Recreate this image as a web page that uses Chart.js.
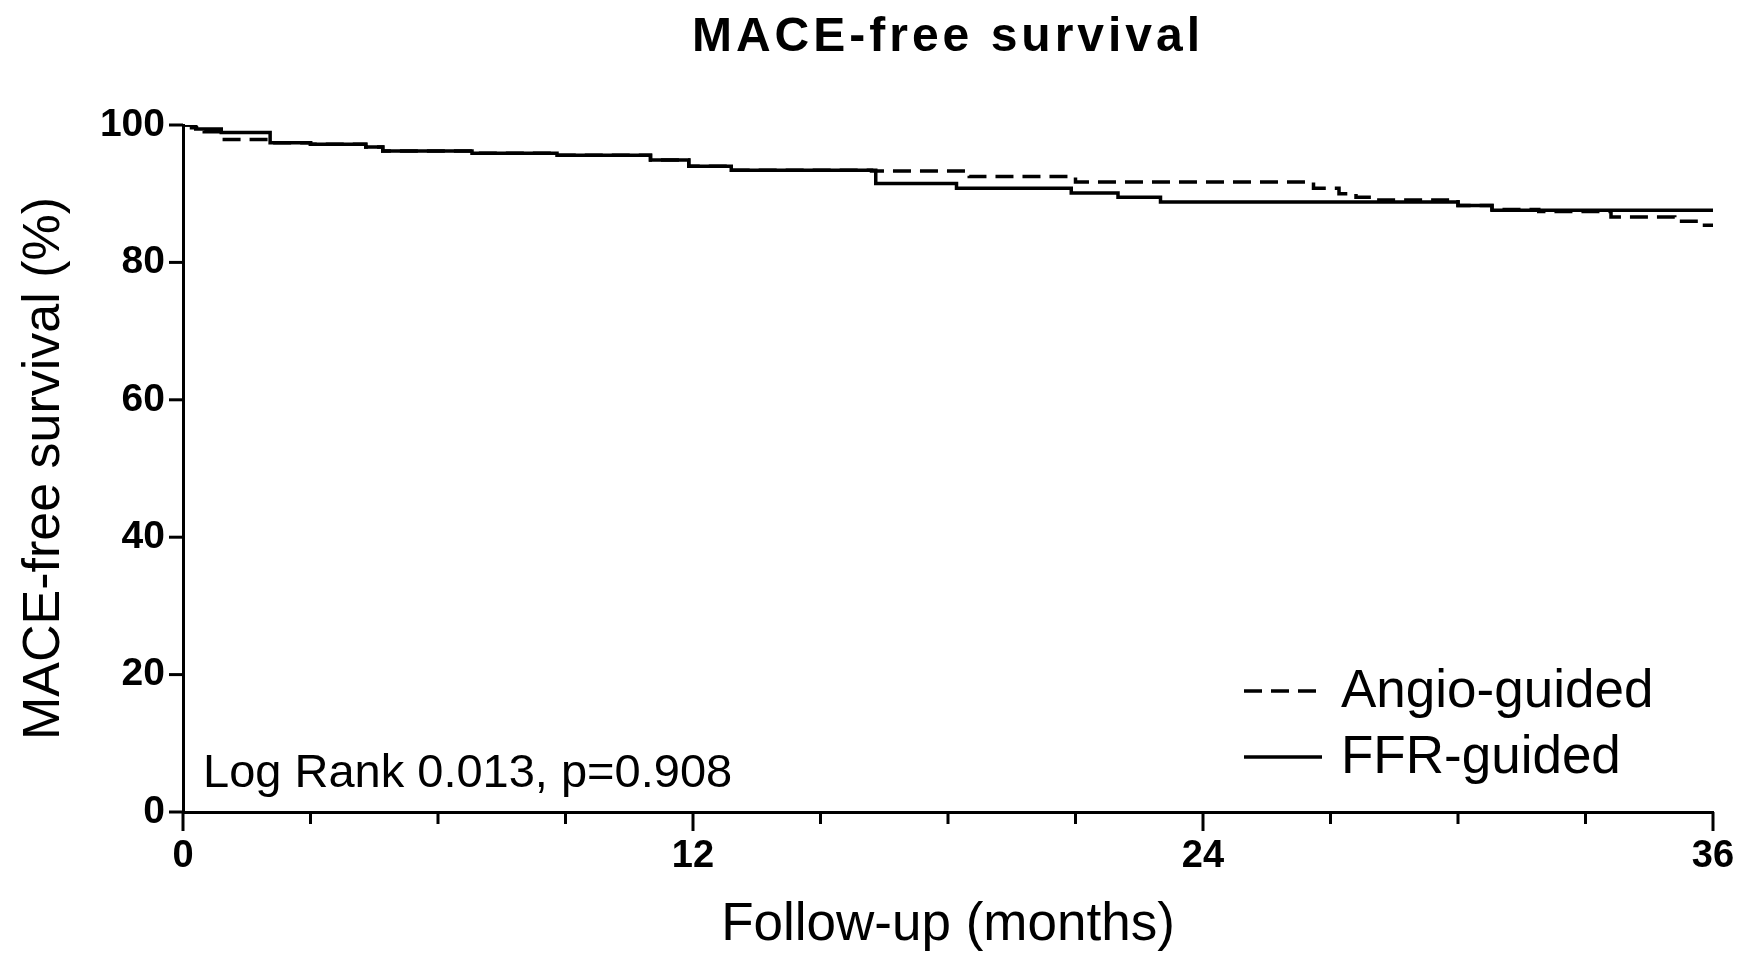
<!DOCTYPE html>
<html>
<head>
<meta charset="utf-8">
<title>MACE-free survival</title>
<script src="https://cdn.jsdelivr.net/npm/chart.js@4.4.0/dist/chart.umd.min.js"></script>
<style>
  html, body { margin: 0; padding: 0; background: #fff; }
  #wrap { width: 1742px; height: 960px; position: relative; }
</style>
</head>
<body>
<div id="wrap"><canvas id="kmChart"></canvas></div>
<script>
/* Kaplan-Meier steps: month of event and survival (%) right after it */
const angioMonths   = [0, 0.2, 0.5, 0.9, 2.05, 3.0, 4.3, 4.7, 6.8, 8.8, 11.0, 11.9, 12.9, 16.2, 18.5, 21.0, 26.6, 27.2, 27.6, 28.0, 30.0, 30.8, 31.9, 33.6, 35.1, 35.8, 36];
const angioSurvival = [100, 99.6, 99.0, 97.9, 97.4, 97.2, 96.8, 96.2, 95.9, 95.6, 94.9, 94.0, 93.4, 93.3, 92.5, 91.7, 90.8, 90.0, 89.5, 89.1, 88.3, 87.7, 87.4, 86.6, 86.0, 85.4, 85.4];

const ffrMonths   = [0, 0.3, 0.9, 2.05, 3.0, 4.3, 4.7, 6.8, 8.8, 11.0, 11.9, 12.9, 16.3, 18.2, 20.9, 22.0, 23.0, 30.0, 30.8, 36];
const ffrSurvival = [100, 99.4, 98.9, 97.4, 97.2, 96.8, 96.2, 95.9, 95.6, 94.9, 94.0, 93.4, 91.5, 90.8, 90.1, 89.5, 88.8, 88.3, 87.6, 87.6];

const xTickValues = [0, 3, 6, 9, 12, 15, 18, 21, 24, 27, 30, 33, 36];
const xLabelled   = [0, 12, 24, 36];
const yTickValues = [0, 20, 40, 60, 80, 100];

const chartTitle = 'MACE-free survival';
const logRankText = 'Log Rank 0.013, p=0.908';

const FONT = '"Liberation Sans", Arial, Helvetica, sans-serif';

let toPoints = (months, surv) => months.map((m, i) => ({x: m, y: surv[i]}));

// tick marks, title, log-rank note and legend drawn on top
const extras = {
  id: 'extras',
  afterDraw(chart) {
    const {ctx, chartArea: a, scales: {x, y}} = chart;
    ctx.save();
    ctx.strokeStyle = '#000';
    ctx.fillStyle = '#000';
    ctx.lineWidth = 3;
    xTickValues.forEach(v => {
      const px = x.getPixelForValue(v);
      const len = xLabelled.includes(v) ? 19 : 12;
      ctx.beginPath(); ctx.moveTo(px, a.bottom); ctx.lineTo(px, a.bottom + len); ctx.stroke();
    });
    yTickValues.forEach(v => {
      const py = y.getPixelForValue(v);
      ctx.beginPath(); ctx.moveTo(a.left, py); ctx.lineTo(a.left - 14, py); ctx.stroke();
    });

    ctx.textBaseline = 'middle';
    ctx.textAlign = 'center';
    ctx.font = 'bold 48px ' + FONT;
    ctx.letterSpacing = '4px';
    ctx.fillText(chartTitle, (a.left + a.right) / 2, 38);
    ctx.letterSpacing = '0px';

    ctx.textAlign = 'left';
    ctx.font = '47px ' + FONT;
    ctx.fillText(logRankText, a.left + 20, 774);

    chart.data.datasets.forEach((ds, i) => {
      const ly = 691 + i * 66;
      ctx.lineWidth = ds.borderWidth;
      ctx.setLineDash(ds.borderDash || []);
      ctx.beginPath(); ctx.moveTo(1244, ly); ctx.lineTo(1322, ly); ctx.stroke();
      ctx.setLineDash([]);
      ctx.font = '53px ' + FONT;
      ctx.fillText(ds.label, 1341, ly + 1);
    });
    ctx.restore();
  }
};

const config = {
  type: 'line',
  data: {
    datasets: [{
      label: 'Angio-guided',
      data: toPoints(angioMonths, angioSurvival),
      borderColor: '#000',
      borderWidth: 3.5,
      borderDash: [18, 9],
      stepped: true,
      pointRadius: 0,
      fill: false
    }, {
      label: 'FFR-guided',
      data: toPoints(ffrMonths, ffrSurvival),
      borderColor: '#000',
      borderWidth: 3.5,
      stepped: true,
      pointRadius: 0,
      fill: false
    }]
  },
  options: {
    responsive: true,
    maintainAspectRatio: false,
    animation: false,
    layout: { padding: { top: 125, right: 29, left: 0, bottom: 0 } },
    plugins: {
      legend: { display: false },
      tooltip: { enabled: false }
    },
    scales: {
      x: {
        type: 'linear',
        min: 0,
        max: 36,
        afterFit: (s) => { s.height = 148; s.paddingLeft = 0; s.paddingRight = 0; },
        afterBuildTicks: (s) => { s.ticks = xTickValues.map(v => ({value: v})); },
        ticks: {
          color: '#000',
          font: { family: FONT, size: 38, weight: 'bold' },
          padding: 22,
          maxRotation: 0,
          autoSkip: false,
          callback: (v) => xLabelled.includes(v) ? String(v) : ''
        },
        grid: { display: false, drawTicks: false },
        border: { display: true, color: '#000', width: 3 },
        title: {
          display: true,
          text: 'Follow-up (months)',
          color: '#000',
          font: { family: FONT, size: 53 },
          padding: { top: 0, bottom: 3 }
        }
      },
      y: {
        min: 0,
        max: 100,
        afterFit: (s) => { s.width = 183; s.paddingTop = 0; s.paddingBottom = 0; },
        afterBuildTicks: (s) => { s.ticks = yTickValues.map(v => ({value: v})); },
        ticks: {
          color: '#000',
          font: { family: FONT, size: 39, weight: 'bold' },
          padding: 18
        },
        grid: { display: false, drawTicks: false },
        border: { display: true, color: '#000', width: 3 },
        title: {
          display: true,
          text: 'MACE-free survival (%)',
          color: '#000',
          font: { family: FONT, size: 52 },
          padding: { top: 13, bottom: 0 }
        }
      }
    }
  },
  plugins: [extras]
};

const chart = new Chart(document.getElementById('kmChart'), config);
</script>
</body>
</html>
